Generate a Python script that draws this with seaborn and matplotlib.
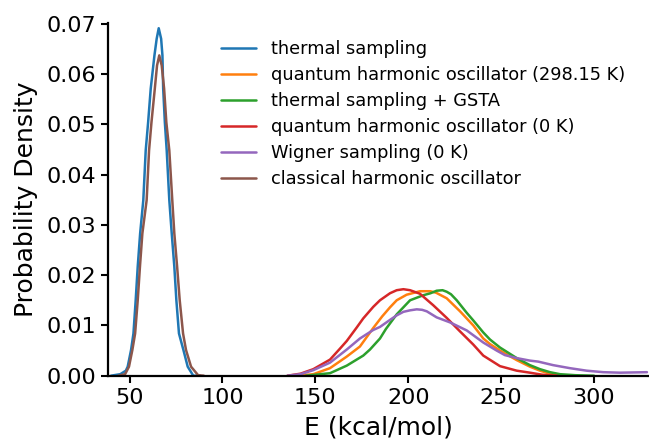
import numpy as np
import pandas as pd
import matplotlib
matplotlib.use("Agg")
import matplotlib.pyplot as plt
import seaborn as sns

# ---- data ----
labels = ["thermal sampling",
          "quantum harmonic oscillator (298.15 K)",
          "thermal sampling + GSTA",
          "quantum harmonic oscillator (0 K)",
          "Wigner sampling (0 K)",
          "classical harmonic oscillator"]

thermal_E = [40, 45, 48, 49, 50.8, 52.1, 53.3, 54.4, 55.7, 57.4, 58.7, 60.0, 61.4, 63.4, 64.6,
             65.7, 67.0, 67.7, 68.1, 69.0, 70.0, 71.4, 72.7, 74.1, 75.2, 76.6, 79.0, 81.3, 84.3, 88]
thermal_d = [0, 0.0003, 0.0010, 0.0018, 0.0051, 0.0084, 0.0150, 0.0217, 0.0283, 0.0349, 0.0448,
             0.0504, 0.0571, 0.0637, 0.0670, 0.0691, 0.0670, 0.0637, 0.0571, 0.0504, 0.0448,
             0.0349, 0.0283, 0.0217, 0.0150, 0.0084, 0.0051, 0.0018, 0, 0]

qho298_E = [140, 148.9, 157.9, 166.9, 174, 181.2, 186, 190.2, 193.8, 199.1, 206.3, 211.8, 215,
            220.7, 227.9, 235, 240.4, 244, 249.4, 258.4, 265.5, 270.9, 276.3, 282, 290]
qho298_d = [0, 0.0003, 0.0015, 0.0038, 0.0058, 0.0095, 0.0118, 0.0136, 0.0150, 0.0161, 0.0168,
            0.0168, 0.0165, 0.0154, 0.0128, 0.0100, 0.0074, 0.0063, 0.0050, 0.0031, 0.0018,
            0.0010, 0.0004, 0.0001, 0]

gsta_E = [145, 157.9, 166.9, 175.8, 179.4, 184.8, 188, 193.8, 201, 208.1, 212, 215.3, 218.5,
          220.7, 223, 226.1, 231.5, 235, 240.4, 244, 249.4, 258.4, 265.5, 270.9, 276.3, 281.7,
          290, 300]
gsta_d = [0, 0.0005, 0.0020, 0.0040, 0.0052, 0.0074, 0.0093, 0.0122, 0.0150, 0.0160, 0.0164,
          0.0169, 0.0170, 0.0167, 0.0162, 0.0150, 0.0125, 0.0110, 0.0086, 0.0072, 0.0056,
          0.0035, 0.0021, 0.0013, 0.0007, 0.0003, 0.0001, 0]

qho0_E = [135, 142, 148.9, 157.9, 163.3, 166.9, 172.3, 175.8, 181.2, 184.8, 190.2, 193.8, 197.4,
          201, 206.3, 213.5, 220.7, 227.9, 235, 240.4, 249.4, 258.4, 265.5, 272, 280]
qho0_d = [0, 0.0004, 0.0013, 0.0032, 0.0054, 0.0069, 0.0096, 0.0114, 0.0137, 0.0150, 0.0164,
          0.0170, 0.0172, 0.0170, 0.0163, 0.0140, 0.0115, 0.0088, 0.0062, 0.0040, 0.0019,
          0.0010, 0.0006, 0.0002, 0]

wigner_E = [135, 142, 148.9, 157.9, 166.9, 174, 181.2, 184.8, 190.2, 193.8, 197.4, 201, 204.6,
            207.5, 210, 215.3, 222.5, 231.5, 240.4, 247.6, 252, 258.4, 265.5, 270, 278, 287,
            296, 305, 314, 328.5]
wigner_d = [0, 0.0003, 0.0011, 0.0026, 0.0052, 0.0074, 0.0091, 0.0097, 0.0111, 0.0120, 0.0127,
            0.0130, 0.0132, 0.0131, 0.0128, 0.0116, 0.0106, 0.0090, 0.0066, 0.0050, 0.0041,
            0.0035, 0.0030, 0.0028, 0.0021, 0.0015, 0.0010, 0.0007, 0.0006, 0.0007]

classical_E = [44, 47.6, 49.7, 51.5, 53.0, 54.4, 55.6, 56.9, 59.2, 60.5, 61.8, 63.6, 64.8, 66.0,
               67.3, 68.6, 69.8, 71.4, 73.0, 74.1, 75.6, 77.0, 78.8, 80.4, 83.1, 86.9, 90]
classical_d = [0, 0.0003, 0.0018, 0.0051, 0.0084, 0.0150, 0.0217, 0.0283, 0.0349, 0.0448,
               0.0504, 0.0571, 0.0617, 0.0637, 0.0617, 0.0571, 0.0504, 0.0448, 0.0349, 0.0283,
               0.0217, 0.0150, 0.0084, 0.0051, 0.0018, 0.0001, 0]

series = [(thermal_E, thermal_d), (qho298_E, qho298_d), (gsta_E, gsta_d),
          (qho0_E, qho0_d), (wigner_E, wigner_d), (classical_E, classical_d)]

# ---- plot ----
sns.set_theme(style="ticks")
plt.rcParams['font.family'] = ['DejaVu Sans']
colors = sns.color_palette("tab10", 6)

fig = plt.figure(figsize=(6.49, 4.40), dpi=100)
ax = fig.add_axes([108/649, 64.3/440, 1 - 108/649, (375.7 - 22.7)/440])

for (E, d), lab, c in zip(series, labels, colors):
    sns.lineplot(x=E, y=d, ax=ax, color=c, label=lab, linewidth=1.8,
                 estimator=None, sort=False)

ax.set_xlim(38.4, 329.6)
ax.set_ylim(0, 0.0702)
ax.set_xticks([50, 100, 150, 200, 250, 300])
ax.set_yticks([0, 0.01, 0.02, 0.03, 0.04, 0.05, 0.06, 0.07])
ax.set_yticklabels(["0.00", "0.01", "0.02", "0.03", "0.04", "0.05", "0.06", "0.07"])
ax.tick_params(labelsize=16, width=1.5, length=5, color='black', labelcolor='black')
ax.set_xlabel("E (kcal/mol)", fontsize=18, color='black', labelpad=6)
ax.set_ylabel("Probability Density", fontsize=18, color='black', labelpad=6)
for s in ["left", "bottom"]:
    ax.spines[s].set_linewidth(1.6)
    ax.spines[s].set_color("black")
sns.despine(ax=ax)

ax.legend(loc="upper left", bbox_to_anchor=(0.179, 0.996), frameon=False,
          fontsize=12.8, handlelength=2.0, labelspacing=0.45, labelcolor='black')

fig.savefig("out.png", dpi=100)
